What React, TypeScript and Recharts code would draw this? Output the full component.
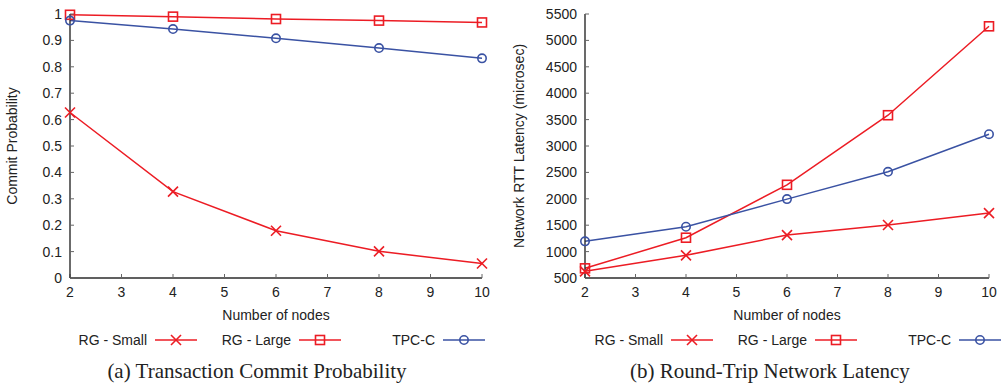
import { LineChart, Line, XAxis, YAxis, Label } from "recharts";

// x values: cluster size
const nodes = [2, 4, 6, 8, 10];
const nodeTicks = [2, 3, 4, 5, 6, 7, 8, 9, 10];

// (a) commit probability
const commitSmall = [0.627, 0.327, 0.179, 0.101, 0.055];
const commitLarge = [0.997, 0.99, 0.981, 0.975, 0.968];
const commitTpcc = [0.975, 0.943, 0.908, 0.871, 0.832];
const commitTicks = [0, 0.1, 0.2, 0.3, 0.4, 0.5, 0.6, 0.7, 0.8, 0.9, 1];

// (b) round-trip latency, microseconds
const rttSmall = [626, 929, 1313, 1503, 1729];
const rttLarge = [683, 1263, 2265, 3583, 5267];
const rttTpcc = [1194, 1471, 1994, 2511, 3224];
const rttTicks = [500, 1000, 1500, 2000, 2500, 3000, 3500, 4000, 4500, 5000, 5500];

const seriesNames = ["RG - Small", "RG - Large", "TPC-C"];

const RED = "#ec1c24";
const BLUE = "#3a52a3";
const AXIS = "#2b2b2b";
const TICK = "#666";
const TEXT = "#222";
const SANS = "'Liberation Sans', Arial, sans-serif";

type Shape = "cross" | "square" | "circle";

const series: { key: string; name: string; color: string; shape: Shape }[] = [
  { key: "small", name: seriesNames[0], color: RED, shape: "cross" },
  { key: "large", name: seriesNames[1], color: RED, shape: "square" },
  { key: "tpcc", name: seriesNames[2], color: BLUE, shape: "circle" },
];

function toRows(small: number[], large: number[], tpcc: number[]) {
  return nodes.map((n, i) => ({ n, small: small[i], large: large[i], tpcc: tpcc[i] }));
}

const commitData = toRows(commitSmall, commitLarge, commitTpcc);
const rttData = toRows(rttSmall, rttLarge, rttTpcc);

function Marker({ shape, cx, cy, color }: { shape: Shape; cx: number; cy: number; color: string }) {
  if (shape === "cross") {
    const s = 5;
    return (
      <g stroke={color} strokeWidth={1.6} fill="none">
        <line x1={cx - s} y1={cy - s} x2={cx + s} y2={cy + s} />
        <line x1={cx - s} y1={cy + s} x2={cx + s} y2={cy - s} />
      </g>
    );
  }
  if (shape === "square") {
    const s = 4.5;
    return <rect x={cx - s} y={cy - s} width={2 * s} height={2 * s} stroke={color} strokeWidth={1.6} fill="none" />;
  }
  return <circle cx={cx} cy={cy} r={4.2} stroke={color} strokeWidth={1.6} fill="none" />;
}

function makeDot(shape: Shape, color: string) {
  return (props: any) => {
    const { cx, cy, index } = props;
    if (cx == null || cy == null) return <g key={`d-${index}`} />;
    return (
      <g key={`d-${shape}-${index}`}>
        <Marker shape={shape} cx={cx} cy={cy} color={color} />
      </g>
    );
  };
}

interface PanelProps {
  data: any[];
  yTicks: number[];
  yDomain: [number, number];
  yTitle: string;
  yAxisWidth: number;
  titleOffset: number;
  rightMargin: number;
}

function Panel({ data, yTicks, yDomain, yTitle, yAxisWidth, titleOffset, rightMargin }: PanelProps) {
  return (
    <LineChart width={500} height={322} data={data} margin={{ top: 14, right: rightMargin, bottom: 0, left: 0 }}>
      <XAxis
        dataKey="n"
        type="number"
        domain={[2, 10]}
        ticks={nodeTicks}
        interval={0}
        height={44}
        tickSize={-4}
        tickMargin={13}
        axisLine={{ stroke: AXIS, strokeWidth: 1.4 }}
        tickLine={{ stroke: TICK }}
        tick={{ fill: TEXT, fontSize: 14 }}
      >
        <Label value="Number of nodes" position="insideBottom" offset={2} fill={TEXT} fontSize={14} />
      </XAxis>
      <XAxis
        xAxisId="top"
        orientation="top"
        type="number"
        domain={[2, 10]}
        ticks={nodeTicks}
        interval={0}
        height={0}
        tickSize={-4}
        tick={false}
        axisLine={{ stroke: AXIS, strokeWidth: 1.4 }}
        tickLine={{ stroke: TICK }}
      />
      <YAxis
        type="number"
        domain={yDomain}
        ticks={yTicks}
        interval={0}
        width={yAxisWidth}
        tickSize={-4}
        tickMargin={12}
        axisLine={{ stroke: AXIS, strokeWidth: 1.4 }}
        tickLine={{ stroke: TICK }}
        tick={{ fill: TEXT, fontSize: 14 }}
      >
        <Label
          value={yTitle}
          angle={-90}
          position="insideLeft"
          offset={titleOffset}
          fill={TEXT}
          fontSize={14}
          style={{ textAnchor: "middle" }}
        />
      </YAxis>
      <YAxis
        yAxisId="right"
        orientation="right"
        type="number"
        domain={yDomain}
        ticks={yTicks}
        interval={0}
        width={0}
        tickSize={-4}
        tick={false}
        axisLine={{ stroke: AXIS, strokeWidth: 1.4 }}
        tickLine={{ stroke: TICK }}
      />
      {series.map((s) => (
        <Line
          key={s.key}
          dataKey={s.key}
          name={s.name}
          stroke={s.color}
          strokeWidth={1.5}
          dot={makeDot(s.shape, s.color)}
          activeDot={false}
          isAnimationActive={false}
        />
      ))}
    </LineChart>
  );
}

function KeyRow({ left }: { left: number }) {
  return (
    <div style={{ position: "absolute", left, top: 331, height: 18, display: "flex" }}>
      {series.map((s) => (
        <div
          key={s.key}
          style={{ width: 144, display: "flex", justifyContent: "flex-end", alignItems: "center", fontSize: 14, color: TEXT }}
        >
          <span>{s.name}</span>
          <svg width={42} height={14} style={{ marginLeft: 8 }}>
            <line x1={0} y1={7} x2={42} y2={7} stroke={s.color} strokeWidth={1.5} />
            <Marker shape={s.shape} cx={21} cy={7} color={s.color} />
          </svg>
        </div>
      ))}
    </div>
  );
}

const captionStyle: React.CSSProperties = {
  position: "absolute",
  top: 359,
  width: 500,
  textAlign: "center",
  fontFamily: "'Liberation Serif', 'Times New Roman', serif",
  fontSize: 21,
  lineHeight: "24px",
  color: TEXT,
};

export default function App() {
  return (
    <div style={{ position: "absolute", left: 0, top: 0, width: 1005, height: 388, background: "#fff", fontFamily: SANS }}>
      <div style={{ position: "absolute", left: 0, top: 0 }}>
        <Panel
          data={commitData}
          yTicks={commitTicks}
          yDomain={[0, 1]}
          yTitle="Commit Probability"
          yAxisWidth={70}
          titleOffset={12}
          rightMargin={18}
        />
      </div>
      <div style={{ position: "absolute", left: 500, top: 0 }}>
        <Panel
          data={rttData}
          yTicks={rttTicks}
          yDomain={[500, 5500]}
          yTitle="Network RTT Latency (microsec)"
          yAxisWidth={85}
          titleOffset={19}
          rightMargin={11}
        />
      </div>
      <KeyRow left={53} />
      <KeyRow left={569} />
      <div style={{ ...captionStyle, left: 7 }}>(a) Transaction Commit Probability</div>
      <div style={{ ...captionStyle, left: 520 }}>(b) Round-Trip Network Latency</div>
    </div>
  );
}
